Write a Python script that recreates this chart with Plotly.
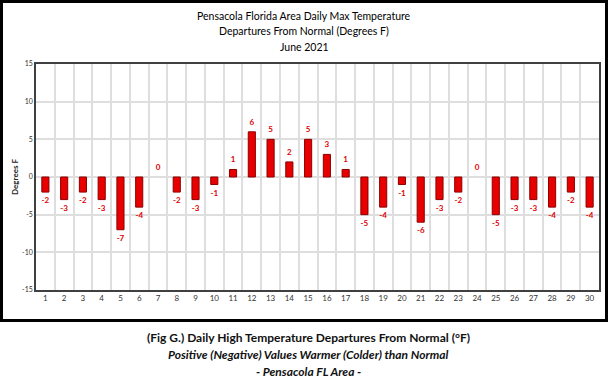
import plotly.graph_objects as go

days = list(range(1, 31))
departures = [-2, -3, -2, -3, -7, -4, 0, -2, -3, -1,
              1, 6, 5, 2, 5, 3, 1, -5, -4, -1,
              -6, -3, -2, 0, -5, -3, -3, -4, -2, -4]
y_ticks = [-15, -10, -5, 0, 5, 10, 15]

title_lines = ["Pensacola Florida Area Daily Max Temperature",
               "Departures From Normal (Degrees F)",
               "June 2021"]
caption_lines = ["(Fig G.) Daily High Temperature Departures From Normal (°F)",
                 "<i>Positive (Negative) Values Warmer (Colder) than Normal</i>",
                 "<i>- Pensacola FL Area -</i>"]

FONT = "Lato"
W, H = 608, 383
L, R, T, B = 36, 9, 64, 93
pw, ph = W - L - R, H - T - B

def px_x(px):
    return (px - L) / pw

def px_y(py):
    return (H - B - py) / ph

fig = go.Figure()
fig.add_trace(go.Bar(
    x=days, y=departures, width=0.38,
    marker=dict(color="#e80000",
                line=dict(color="#8a0000", width=[1 if v != 0 else 0 for v in departures])),
    hoverinfo="x+y",
))
label_off = 1.2
fig.add_trace(go.Scatter(
    x=days,
    y=[v + label_off if v >= 0 else v - label_off for v in departures],
    mode="text",
    text=[str(v) for v in departures],
    textfont=dict(family=FONT, size=8, color="#e00000", weight="bold"),
    hoverinfo="skip",
))

annotations = []
for i, t in enumerate(title_lines):
    annotations.append(dict(
        xref="paper", yref="paper", x=px_x(304), y=px_y(16 + 15.5 * i),
        text=t, showarrow=False, xanchor="center", yanchor="middle",
        font=dict(family=FONT, size=10.5, color="#000000")))
for i, t in enumerate(caption_lines):
    annotations.append(dict(
        xref="paper", yref="paper", x=px_x(308), y=px_y(337 + 17 * i),
        text="<b>" + t + "</b>", showarrow=False, xanchor="center", yanchor="middle",
        font=dict(family=FONT, size=12, color="#111111")))

shapes = [dict(type="rect", xref="paper", yref="paper",
               x0=px_x(1.5), x1=px_x(606.5), y0=px_y(320.5), y1=px_y(1.5),
               line=dict(color="black", width=3), fillcolor="rgba(0,0,0,0)", layer="above")]

fig.update_layout(
    width=W, height=H,
    margin=dict(l=L, r=R, t=T, b=B, autoexpand=False),
    paper_bgcolor="white", plot_bgcolor="white",
    showlegend=False,
    annotations=annotations,
    shapes=shapes,
    font=dict(family=FONT),
    xaxis=dict(
        range=[0.5, 30.5], tickvals=days, ticktext=[str(d) for d in days],
        showgrid=False, ticks="", zeroline=False,
        tickfont=dict(family=FONT, size=8, color="#333333"),
        showline=True, linecolor="#404040", linewidth=1.5, mirror=True,
        minor=dict(tick0=0.5, dtick=1, showgrid=True, gridcolor="#dedede", gridwidth=1.5),
        fixedrange=True,
    ),
    yaxis=dict(
        range=[-15, 15], tickvals=y_ticks, ticktext=[str(v) for v in y_ticks],
        showgrid=True, gridcolor="#dedede", gridwidth=1.5,
        zeroline=True, zerolinecolor="#dedede", zerolinewidth=1.5,
        tickfont=dict(family=FONT, size=7, color="#333333"),
        showline=True, linecolor="#404040", linewidth=1.5, mirror=True,
        ticks="", ticklen=0,
        title=dict(text="<b>Degrees F</b>", font=dict(family=FONT, size=8, color="#222222"), standoff=2),
        fixedrange=True,
    ),
)

fig.write_html("out.html", config={"displayModeBar": False},
               post_script="document.body.style.margin='0px';")
